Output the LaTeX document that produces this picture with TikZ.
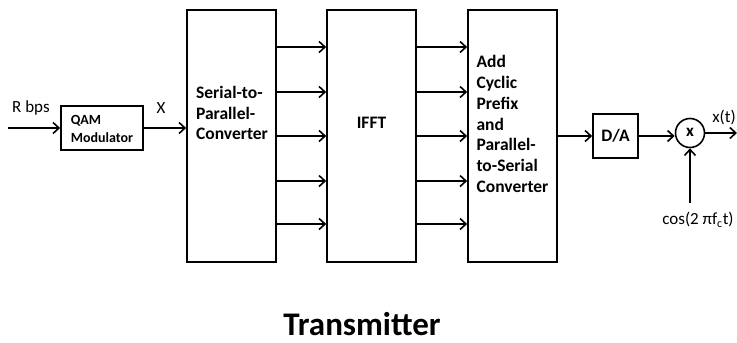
\documentclass[tikz,border=0pt]{standalone}
\usepackage{fontspec}
\setmainfont{Carlito}
\usetikzlibrary{arrows.meta}
\begin{document}
\begin{tikzpicture}[x=1pt,y=-1pt,
  box/.style={draw, line width=1.6pt, inner sep=0pt},
  boxtxt/.style={font=\fontsize{17.5}{20.8}\selectfont\bfseries, align=left, inner sep=0pt},
  lbl/.style={font=\fontsize{17}{20}\selectfont, inner sep=0pt},
  arr/.style={line width=1.6pt, -{Straight Barb[length=6pt,width=11pt,line width=1.6pt]}}]
\useasboundingbox (0,0) rectangle (737,343);
% blocks
\node[box, minimum width=82pt, minimum height=44pt] (qam) at (102,128) {};
\node[font=\fontsize{14}{18}\selectfont\bfseries, align=left, inner sep=0pt] (qamtxt) at (102,129) {QAM\\Modulator};
\node[box, minimum width=89pt, minimum height=252pt] (sp) at (231.5,136) {};
\node[boxtxt] (sptxt) at (232,113) {Serial-to-\\Parallel-\\Converter};
\node[box, minimum width=89pt, minimum height=252pt] (ifft) at (371.5,136) {};
\node[boxtxt] (iffttxt) at (371.5,123) {IFFT};
\node[box, minimum width=89pt, minimum height=252pt] (cp) at (512.5,136) {};
\node[boxtxt] (cptxt) at (512.5,124) {Add\\Cyclic\\Prefix\\and\\Parallel-\\to-Serial\\Converter};
\node[box, minimum width=45pt, minimum height=44pt] (da) at (615.5,136) {};
\node[boxtxt] (datxt) at (615.5,136) {D/A};
\node[draw, circle, line width=1.6pt, minimum size=29pt, inner sep=0pt] (mix) at (690,133) {};
\node[font=\fontsize{17}{18}\selectfont\bfseries, inner sep=0pt] (mixtxt) at (690,132) {x};
% free ends
\coordinate (in) at (8,128);
\coordinate (out) at (737,133);
\coordinate (cosin) at (690,203);
% labels
\node[lbl] (rbps) at (31,108) {R bps};
\node[lbl] (xlbl) at (161,108) {X};
\node[lbl] (xt) at (724,117) {x(t)};
\node[lbl] (cos) at (698,220) {cos(2 πf\textsubscript{c}t)};
\node[font=\fontsize{33}{36}\selectfont\bfseries, anchor=base, inner sep=0pt] (title) at (362,335) {Transmitter};
% connectors
\draw[arr] (in) -- (qam.west |- in);
\draw[arr] (qam.east) -- (sp.west |- qam.east);
\foreach \yy in {47,92,136,181,224} {
  \draw[arr] (sp.east |- 0,\yy) -- (ifft.west |- 0,\yy);
  \draw[arr] (ifft.east |- 0,\yy) -- (cp.west |- 0,\yy);
}
\draw[arr] (cp.east |- da.west) -- (da.west);
\draw[arr] (da.east) -- (mix.west |- da.east);
\draw[arr] (mix.east) -- (out);
\draw[arr] (cosin) -- (mix.south);
\end{tikzpicture}
\end{document}
